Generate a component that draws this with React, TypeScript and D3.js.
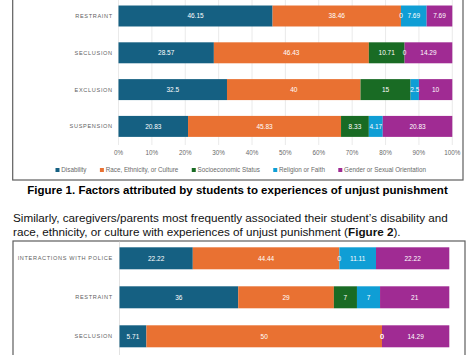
import React, { useEffect, useRef } from 'react';
import * as d3 from 'd3';

const seriesNames = ['Disability', 'Race, Ethnicity, or Culture', 'Socioeconomic Status', 'Religion or Faith', 'Gender or Sexual Orientation'];
const seriesColors = ['#156082', '#E97132', '#196B24', '#0F9ED5', '#A02B93'];

const fig1Categories = ['RESTRAINT', 'SECLUSION', 'EXCLUSION', 'SUSPENSION'];
const fig1Disability = [46.15, 28.57, 32.5, 20.83];
const fig1Race = [38.46, 46.43, 40, 45.83];
const fig1SES = [0, 10.71, 15, 8.33];
const fig1Religion = [7.69, 0, 2.5, 4.17];
const fig1Gender = [7.69, 14.29, 10, 20.83];

const fig2Categories = ['INTERACTIONS WITH POLICE', 'RESTRAINT', 'SECLUSION'];
const fig2Disability = [22.22, 36, 5.71];
const fig2Race = [44.44, 29, 50];
const fig2SES = [0, 7, 0];
const fig2Religion = [11.11, 7, 0];
const fig2Gender = [22.22, 21, 14.29];

const axisTicks = [0, 10, 20, 30, 40, 50, 60, 70, 80, 90, 100];

const captionText = 'Figure 1. Factors attributed by students to experiences of unjust punishment';
const paraLine1 = 'Similarly, caregivers/parents most frequently associated their student\u2019s disability and';
const paraLine2a = 'race, ethnicity, or culture with experiences of unjust punishment (';
const paraLine2b = 'Figure 2';
const paraLine2c = ').';

const FONT = '"Liberation Sans", Arial, sans-serif';

type Rows = { cat: string; [k: string]: any }[];

function buildRows(cats: string[], arrs: number[][]): Rows {
  return cats.map((c, i) => {
    const r: any = { cat: c };
    seriesNames.forEach((s, j) => (r[s] = arrs[j][i]));
    return r;
  });
}

function drawBars(
  g: d3.Selection<SVGGElement, unknown, null, undefined>,
  rows: Rows,
  cats: string[],
  x: d3.ScaleLinear<number, number>,
  y: d3.ScaleBand<string>,
  labelX: number
) {
  const stack = d3.stack<any>().keys(seriesNames).offset(d3.stackOffsetExpand);
  const series = stack(rows);
  series.forEach((s, si) => {
    const sg = g.append('g');
    s.forEach((d: any) => {
      const cat = d.data.cat;
      const x0 = x(d[0]);
      const x1 = x(d[1]);
      const yy = y(cat)!;
      if (x1 - x0 > 0) {
        sg.append('rect')
          .attr('x', x0)
          .attr('y', yy)
          .attr('width', x1 - x0)
          .attr('height', y.bandwidth())
          .attr('fill', seriesColors[si]);
      }
    });
  });
  series.forEach((s) => {
    s.forEach((d: any) => {
      const cat = d.data.cat;
      const val = d.data[s.key];
      g.append('text')
        .attr('x', (x(d[0]) + x(d[1])) / 2)
        .attr('y', y(cat)! + y.bandwidth() / 2)
        .attr('dy', '0.35em')
        .attr('text-anchor', 'middle')
        .attr('font-family', FONT)
        .attr('font-size', 6.5)
        .attr('fill', '#ffffff')
        .text(String(val));
    });
  });
  cats.forEach((c) => {
    g.append('text')
      .attr('x', labelX)
      .attr('y', y(c)! + y.bandwidth() / 2)
      .attr('dy', '0.35em')
      .attr('text-anchor', 'end')
      .attr('font-family', FONT)
      .attr('font-size', 5.6)
      .attr('letter-spacing', 0.65)
      .attr('fill', '#5f5f5f')
      .text(c);
  });
}

export default function App() {
  const ref = useRef<SVGSVGElement>(null);
  useEffect(() => {
    const svg = d3.select(ref.current!);
    svg.selectAll('*').remove();
    const root = svg.append('g');

    // ---------- Figure 1 ----------
    const g1 = root.append('g');
    const x1 = d3.scaleLinear().domain([0, 1]).range([118.5, 452.3]);
    const step1 = 36.8;
    const y1 = d3
      .scaleBand<string>()
      .domain(fig1Categories)
      .range([16 - step1 / 2, 16 - step1 / 2 + step1 * fig1Categories.length])
      .paddingInner(0.43)
      .paddingOuter(0.215);

    g1.append('rect')
      .attr('x', 12.7)
      .attr('y', -10)
      .attr('width', 463 - 12.7)
      .attr('height', 180 + 10)
      .attr('fill', '#ffffff')
      .attr('stroke', '#5e5e5e')
      .attr('stroke-width', 1.2);

    axisTicks.forEach((t) => {
      g1.append('line')
        .attr('x1', x1(t / 100))
        .attr('x2', x1(t / 100))
        .attr('y1', -2)
        .attr('y2', 145)
        .attr('stroke', '#e4e4e4')
        .attr('stroke-width', 0.8);
      g1.append('text')
        .attr('x', x1(t / 100))
        .attr('y', 153)
        .attr('dy', '0.35em')
        .attr('text-anchor', 'middle')
        .attr('font-family', FONT)
        .attr('font-size', 6.3)
        .attr('fill', '#6a6a6a')
        .text(`${t}%`);
    });

    drawBars(
      g1,
      buildRows(fig1Categories, [fig1Disability, fig1Race, fig1SES, fig1Religion, fig1Gender]),
      fig1Categories,
      x1,
      y1,
      112.8
    );

    // legend
    const legG = g1.append('g');
    const sq = 4;
    const items = seriesNames.map((name, i) => {
      const it = legG.append('g');
      it.append('rect').attr('width', sq).attr('height', sq).attr('y', -sq / 2).attr('fill', seriesColors[i]);
      const t = it
        .append('text')
        .attr('x', sq + 1.8)
        .attr('dy', '0.35em')
        .attr('font-family', FONT)
        .attr('font-size', 6.3)
        .attr('fill', '#6a6a6a')
        .text(name);
      const w = (t.node() as SVGTextElement).getComputedTextLength();
      return { it, w: sq + 1.8 + w };
    });
    const legStart = 55.5;
    const legEnd = 426;
    const totalW = d3.sum(items, (d) => d.w);
    const gap = (legEnd - legStart - totalW) / (items.length - 1);
    let cx = legStart;
    items.forEach((d) => {
      d.it.attr('transform', `translate(${cx},170)`);
      cx += d.w + gap;
    });

    // caption
    root
      .append('text')
      .attr('x', 237.5)
      .attr('y', 194)
      .attr('text-anchor', 'middle')
      .attr('font-family', FONT)
      .attr('font-weight', 'bold')
      .attr('font-size', 11.5)
      .attr('fill', '#000')
      .text(captionText);

    // paragraph
    root
      .append('text')
      .attr('x', 13)
      .attr('y', 222)
      .attr('font-family', FONT)
      .attr('font-size', 11.7)
      .attr('fill', '#111')
      .text(paraLine1);
    const p2 = root
      .append('text')
      .attr('x', 13)
      .attr('y', 236)
      .attr('font-family', FONT)
      .attr('font-size', 11.7)
      .attr('fill', '#111');
    p2.append('tspan').text(paraLine2a);
    p2.append('tspan').attr('font-weight', 'bold').text(paraLine2b);
    p2.append('tspan').text(paraLine2c);

    // ---------- Figure 2 ----------
    const g2 = root.append('g');
    const x2 = d3.scaleLinear().domain([0, 1]).range([119.5, 449.3]);
    const step2 = 39;
    const y2 = d3
      .scaleBand<string>()
      .domain(fig2Categories)
      .range([258.3 - step2 / 2, 258.3 - step2 / 2 + step2 * fig2Categories.length])
      .paddingInner(0.436)
      .paddingOuter(0.218);

    g2.append('rect')
      .attr('x', 13)
      .attr('y', 241)
      .attr('width', 465 - 13)
      .attr('height', 200)
      .attr('fill', '#ffffff')
      .attr('stroke', '#5e5e5e')
      .attr('stroke-width', 1.2);

    g2.append('line')
      .attr('x1', x2(0))
      .attr('x2', x2(0))
      .attr('y1', 241.6)
      .attr('y2', 360)
      .attr('stroke', '#dadada')
      .attr('stroke-width', 0.8);

    drawBars(
      g2,
      buildRows(fig2Categories, [fig2Disability, fig2Race, fig2SES, fig2Religion, fig2Gender]),
      fig2Categories,
      x2,
      y2,
      112.8
    );
  }, []);

  return (
    <svg
      ref={ref}
      width={473}
      height={355}
      style={{ position: 'absolute', left: 0, top: 0, background: '#fff', display: 'block' }}
    />
  );
}
